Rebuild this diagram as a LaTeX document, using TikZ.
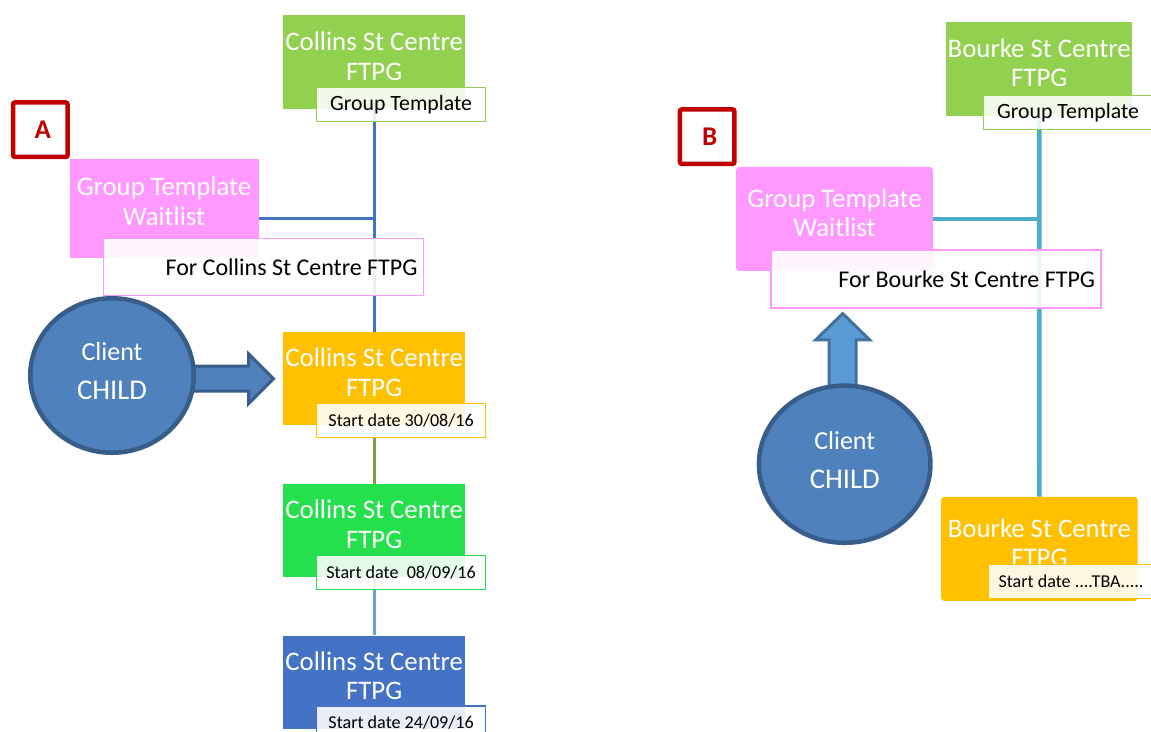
\documentclass[tikz,border=0pt]{standalone}
\usepackage{fontspec}
\setmainfont{Carlito}
\usepackage{tikz}
\usetikzlibrary{shapes.geometric,positioning,calc}
\definecolor{leafgreen}{HTML}{92D050}
\definecolor{brightgreen}{HTML}{24E04C}
\definecolor{amber}{HTML}{FFC000}
\definecolor{royal}{HTML}{4472C4}
\definecolor{orchid}{HTML}{FF99FF}
\definecolor{steel}{HTML}{4F81BD}
\definecolor{steeldark}{HTML}{385D8A}
\definecolor{sky}{HTML}{5B9BD5}
\definecolor{skydark}{HTML}{41719C}
\definecolor{tealline}{HTML}{4BACC6}
\definecolor{darkred}{HTML}{C00000}
\definecolor{oliveline}{HTML}{77A43F}
\definecolor{paleblue}{HTML}{6A9FD8}

\begin{document}
\begin{tikzpicture}[x=1pt,y=-1pt,
    centre/.style={fill=#1,minimum width=182pt,minimum height=93.5pt,anchor=north west,inner sep=0pt},
    heading/.style={align=center,text=white,inner sep=0pt,font=\fontsize{26.8}{29.7}\selectfont},
    tag/.style={draw=#1,line width=1.6pt,fill=white,fill opacity=0.88,text opacity=1,
                minimum width=169pt,minimum height=34pt,inner sep=0pt,anchor=south east,
                font=\fontsize{18.1}{20}\selectfont},
    waitlist/.style={fill=orchid,anchor=north west,inner sep=0pt},
    forbox/.style={draw=orchid,line width=1.6pt,fill=white,fill opacity=0.9,text opacity=1,
                   anchor=north west,inner xsep=6pt,inner ysep=0pt,align=flush right,
                   font=\fontsize{24}{26}\selectfont},
    letterbox/.style={draw=darkred,line width=4.5pt,fill=white,rounded corners=2pt,
                      minimum size=54.5pt,inner sep=0pt,text=darkred,
                      font=\bfseries\fontsize{27}{30}\selectfont},
    client/.style={ellipse,fill=steel,draw=steeldark,line width=4.5pt,inner sep=0pt,
                   text=white,align=center,font=\fontsize{26}{39}\selectfont},
    bigarrow/.style={line width=3pt,line join=miter},
    link/.style={line width=2.7pt}]

  \useasboundingbox (0,0) rectangle (1151,731);
  \clip (0,0) rectangle (1151,731);

  % A
  \node[centre=leafgreen] (gA) at (283,15) {};
  \node[centre=amber] (oA) at (283,331.7) {};
  \node[centre=brightgreen] (g2A) at (283,483.7) {};
  \node[centre=royal] (bA) at (283,635.3) {};
  \node[waitlist,minimum width=189pt,minimum height=98.6pt] (pA) at (69.3,158.7) {};

  \node[heading,below=16.5pt of gA.north] (gAt) {Collins St Centre\\FTPG};
  \node[heading,below=16pt of oA.north] (oAt) {Collins St Centre\\FTPG};
  \node[heading,below=16pt of g2A.north] (g2At) {Collins St Centre\\FTPG};
  \node[heading,below=16pt of bA.north] (bAt) {Collins St Centre\\FTPG};
  \node[heading,below=18pt of pA.north] (pAt) {Group Template\\Waitlist};

  \draw[link,royal] (gA.south) -- (oA.north);
  \draw[link,royal] ([yshift=-10pt]pA.east) -- ([yshift=-10pt]pA.east -| gA.south);
  \draw[link,oliveline] (oA.south) -- (g2A.north);
  \draw[link,paleblue] (g2A.south) -- (bA.north);

  \node[tag=leafgreen,font=\fontsize{21.8}{23}\selectfont] (gAg)
       at ([xshift=21pt,yshift=-13.5pt]gA.south east) {Group Template};
  \node[tag=amber] (oAg) at ([xshift=21pt,yshift=-12.7pt]oA.south east) {Start date 30/08/16};
  \node[tag=brightgreen] (g2Ag) at ([xshift=21pt,yshift=-12.7pt]g2A.south east) {Start date~ 08/09/16};
  \node[tag=royal] (bAg) at ([xshift=21pt,yshift=-11.5pt]bA.south east) {Start date 24/09/16};

  \node[forbox,text width=308pt,minimum height=57pt] (fA) at (102.7,237.7) {For Collins St Centre FTPG};
  \node[letterbox] (lA) at (40.3,129.7) {\hspace{5pt}A};

  \coordinate (tipA) at ([xshift=-9.5pt]oA.west);
  \draw[bigarrow,fill=steel,draw=steeldark] (tipA) -- ++(-25,-25) -- ++(0,12.5) -- ++(-75,0)
       -- ++(0,25) -- ++(75,0) -- ++(0,12.5) -- cycle;
  \node[client,minimum width=163.5pt,minimum height=154.5pt] (cA) at (112,375.5)
       {Client\\{\fontsize{28.6}{39}\selectfont CHILD}\\[-30pt]};

  % B
  \node[centre=leafgreen,minimum width=186pt,minimum height=93.7pt] (gB) at (946,22) {};
  \node[centre=amber,minimum width=196.3pt,minimum height=104pt,rounded corners=3pt] (oB) at (941,496.7) {};
  \node[waitlist,minimum width=196.7pt,minimum height=104pt,rounded corners=3pt] (pB) at (736,166.7) {};

  \node[heading,below=16.3pt of gB.north] (gBt) {Bourke St Centre\\FTPG};
  \node[heading,below=21.6pt of oB.north] (oBt) {Bourke St Centre\\FTPG};
  \node[heading,below=21.7pt of pB.north] (pBt) {Group Template\\Waitlist};

  \draw[line width=4.7pt,tealline] (gB.south) -- (oB.north);
  \draw[line width=4.7pt,tealline] (pB.east) -- (pB.east -| gB.south);

  \node[tag=leafgreen,font=\fontsize{21.8}{23}\selectfont] (gBg)
       at ([xshift=21pt,yshift=-14.3pt]gB.south east) {Group Template};
  \node[tag=amber,anchor=south west,minimum width=190pt,text width=170pt,inner xsep=10pt,align=flush left] (oBg)
       at ([xshift=46.7pt,yshift=1.7pt]oB.south west) {Start date ....TBA.....};

  \node[forbox,text width=318pt,minimum height=58pt] (fB) at (770.3,249.3) {For Bourke St Centre FTPG};
  \node[letterbox] (lB) at (707.2,136.7) {\hspace{5pt}B};

  \coordinate (tipB) at ([yshift=-4.7pt]fB.south -| 842.7,0);
  \draw[bigarrow,fill=sky,draw=skydark] (tipB) -- ++(27,26.3) -- ++(-13.5,0) -- ++(0,60)
       -- ++(-27,0) -- ++(0,-60) -- ++(-13.5,0) -- cycle;
  \node[client,minimum width=171.5pt,minimum height=157.2pt] (cB) at (844.7,464.2)
       {Client\\{\fontsize{28.6}{39}\selectfont CHILD}\\[-30pt]};
\end{tikzpicture}
\end{document}
